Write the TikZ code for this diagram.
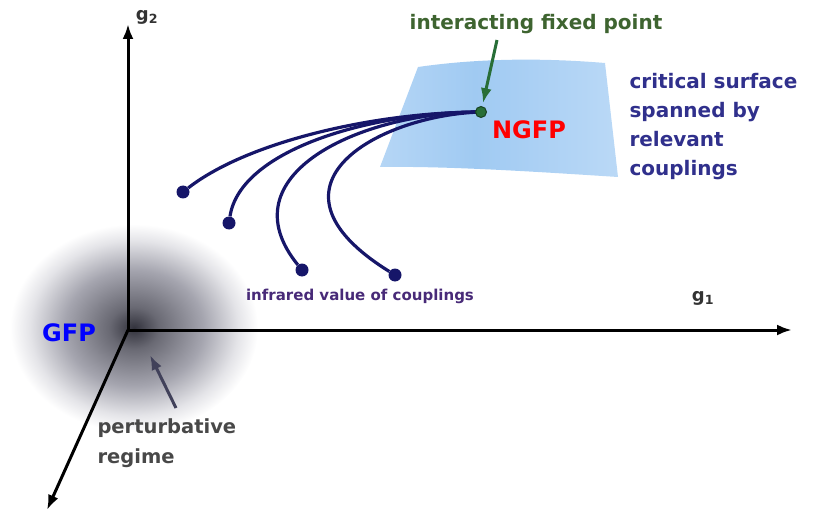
\documentclass[tikz,border=0pt]{standalone}
\usepackage{fontspec}
\setmainfont{DejaVu Sans}
\usetikzlibrary{arrows.meta, positioning}
\definecolor{flownavy}{RGB}{22,22,105}
\definecolor{fixgreen}{RGB}{40,110,55}
\definecolor{fixtext}{RGB}{62,100,48}
\definecolor{surftext}{RGB}{48,48,140}
\definecolor{irtext}{RGB}{72,42,120}
\definecolor{pertgray}{RGB}{72,72,72}
\definecolor{glowdark}{RGB}{50,50,60}
\definecolor{glowmid}{RGB}{105,105,115}
\definecolor{glowsoft}{RGB}{165,165,175}
\definecolor{glowlight}{RGB}{228,228,232}
\definecolor{surfdark}{RGB}{160,202,242}
\definecolor{surflight}{RGB}{208,229,250}
\pgfdeclareradialshading{gfpglow}{\pgfpoint{0bp}{0bp}}{color(0bp)=(glowdark); color(5bp)=(glowmid); color(14bp)=(glowsoft); color(21bp)=(glowlight); color(25bp)=(white); color(50bp)=(white)}
\pgfdeclarehorizontalshading{surfblue}{100bp}{color(0bp)=(surflight); color(45bp)=(surfdark); color(100bp)=(surflight)}

\begin{document}
\begin{tikzpicture}[
    x=1pt, y=-1pt,
    axis/.style={line width=3pt, -{Latex[length=15pt,width=11pt]}},
    axislabel/.style={font=\fontsize{18}{18}\selectfont\bfseries, text=black!80},
    flow/.style={line width=3.2pt, draw=flownavy},
    irdot/.style={circle, fill=flownavy, inner sep=0pt, minimum size=13pt},
    fixdot/.style={circle, fill=fixgreen, draw=fixgreen!60!black, line width=1pt, inner sep=0pt, minimum size=11pt},
    callout/.style={line width=3pt, -{Latex[length=15pt,width=11pt]}},
    bigtext/.style={font=\fontsize{20}{29}\selectfont\bfseries, align=left},
    fplabel/.style={font=\fontsize{24}{24}\selectfont\bfseries}
]
\useasboundingbox (0,0) rectangle (817,516);

% shaded region round the Gaussian fixed point
\shade[shading=gfpglow] (134,328) ellipse [x radius=124, y radius=104];

% critical surface
\shade[shading=surfblue] (418,67) .. controls (480,58) and (545,58) .. (605,63)
    -- (618,177) .. controls (540,172) and (450,166) .. (380,167) -- cycle;

% axes
\coordinate (origin) at (128,330);
\coordinate (g1tip) at (792,330);
\coordinate (g2tip) at (128,24);
\coordinate (g3tip) at (47,510);
\draw[axis] (origin) -- (g1tip);
\draw[axis] (origin) -- (g2tip);
\draw[axis] (origin) -- (g3tip);
\node[axislabel] (g1) at (703,298) {g\textsubscript{1}};
\node[axislabel] (g2) at (147,17) {g\textsubscript{2}};

% flows from the fixed point to the infrared
\coordinate (fp) at (481,112);
\node[irdot] (ir1) at (183,192) {};
\node[irdot] (ir2) at (229,223) {};
\node[irdot] (ir3) at (302,270) {};
\node[irdot] (ir4) at (395,275) {};
\draw[flow] (fp) .. controls (380,112) and (250,140) .. (ir1);
\draw[flow] (fp) .. controls (370,112) and (240,150) .. (ir2);
\draw[flow] (fp) .. controls (360,112) and (225,175) .. (ir3);
\draw[flow] (fp) .. controls (380,115) and (250,185) .. (ir4);
\node[fixdot] (ngfp) at (fp) {};

% labels
\node[fplabel, text=red] (ngfplabel) at (529,130) {NGFP};
\node[fplabel, text=blue] (gfplabel) at (69,333) {GFP};
\node[bigtext, text=fixtext] (fixlabel) at (536,24) {interacting fixed point};
\node[bigtext, text=surftext, anchor=north west] (surflabel) at (626,70)
    {critical surface\\spanned by\\relevant\\couplings};
\node[font=\fontsize{15}{15}\selectfont\bfseries, text=irtext] (irlabel) at (360,296)
    {infrared value of couplings};
\node[bigtext, font=\fontsize{19.5}{30}\selectfont\bfseries, text=pertgray, anchor=north west] (pertlabel) at (94,415)
    {perturbative\\regime};

% callout arrows
\coordinate (fixtail) at (497,40);
\draw[callout, draw=fixgreen, shorten >=3pt] (fixtail) -- (ngfp);
\coordinate (perttail) at (176,408);
\coordinate (perthead) at (150,355);
\draw[callout, draw=pertgray!90!blue] (perttail) -- (perthead);
\end{tikzpicture}
\end{document}
